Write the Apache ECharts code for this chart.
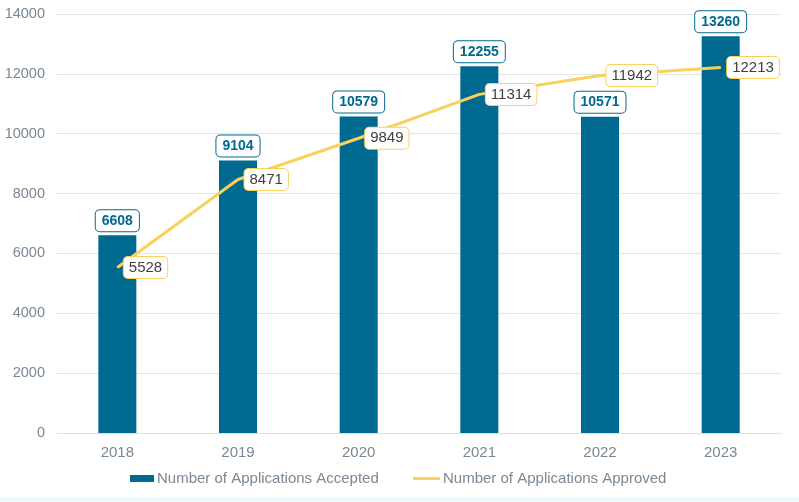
<!DOCTYPE html>
<html>
<head>
<meta charset="utf-8">
<script src="https://cdn.jsdelivr.net/npm/echarts@6/dist/echarts.min.js"></script>
<style>
    html, body { margin: 0; padding: 0; background: #fff; }
    #chart { width: 799px; height: 497px; }
    #strip { width: 799px; height: 5px; background: #eefafc; }
</style>
</head>
<body>
<div id="chart"></div>
<div id="strip"></div>
<script>
const years = ['2018', '2019', '2020', '2021', '2022', '2023'];
const accepted = [6608, 9104, 10579, 12255, 10571, 13260];
const approved = [5528, 8471, 9849, 11314, 11942, 12213];

const lineColor = '#f8d15c';
const barColor = '#00698f';

let chart = echarts.init(document.getElementById('chart'));
let legendText = { color: '#7a8794', fontSize: 15, padding: [0, 0, 0, -2] };
let option = {
    animation: false,
    textStyle: { fontFamily: 'Arial, "Liberation Sans", sans-serif' },
    grid: { left: 57, right: 18, top: 14, bottom: 64, containLabel: false },
    legend: [
        {
            left: 125,
            bottom: 6,
            itemWidth: 24,
            itemHeight: 7,
            textStyle: legendText,
            data: [{ name: 'Number of Applications Accepted', icon: 'rect' }]
        },
        {
            left: 408,
            bottom: 6,
            itemWidth: 27,
            itemHeight: 3,
            textStyle: legendText,
            data: [{ name: 'Number of Applications Approved', icon: 'rect', itemStyle: { color: lineColor } }]
        }
    ],
    xAxis: {
        type: 'category',
        data: years,
        axisLine: { lineStyle: { color: '#e0e0e0' } },
        axisTick: { show: false },
        axisLabel: { color: '#7a8794', fontSize: 15, margin: 12 }
    },
    yAxis: {
        type: 'value',
        min: 0,
        max: 14000,
        interval: 2000,
        axisLine: { show: false },
        axisTick: { show: false },
        axisLabel: { color: '#7a8794', fontSize: 14.5, margin: 12, formatter: (v) => String(v) },
        splitLine: { lineStyle: { color: '#e3e3e3' } }
    },
    series: [
        {
            name: 'Number of Applications Accepted',
            type: 'bar',
            data: accepted,
            barWidth: 38,
            itemStyle: { color: barColor },
            label: {
                show: true,
                position: 'top',
                distance: 4,
                color: barColor,
                fontWeight: 'bold',
                fontSize: 14,
                backgroundColor: '#fff',
                borderColor: barColor,
                borderWidth: 1,
                borderRadius: 4,
                padding: [4, 6, 3, 6]
            }
        },
        {
            name: 'Number of Applications Approved',
            type: 'line',
            data: approved,
            symbol: 'circle',
            symbolSize: 1,
            showSymbol: true,
            lineStyle: { color: lineColor, width: 3 },
            itemStyle: { color: lineColor },
            label: {
                show: true,
                position: 'right',
                distance: 6,
                color: '#404040',
                fontSize: 15,
                backgroundColor: '#fff',
                borderColor: lineColor,
                borderWidth: 1,
                borderRadius: 4,
                padding: [3, 5, 3, 5]
            }
        }
    ]
};
chart.setOption(option);
</script>
</body>
</html>
